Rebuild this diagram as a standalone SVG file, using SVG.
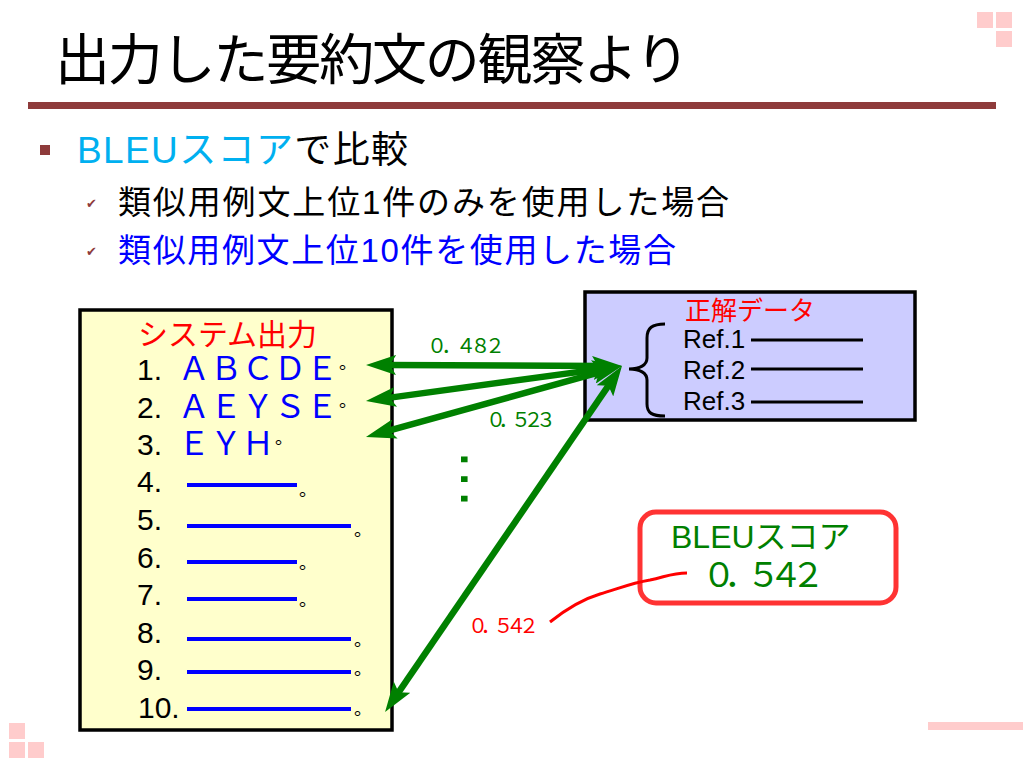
<svg xmlns="http://www.w3.org/2000/svg" width="1024" height="767" viewBox="0 0 1024 767">
<style>
text{font-family:"Liberation Sans","Noto Sans CJK JP",sans-serif;}
.num{font-size:30px;fill:#000;}
.fw{font-size:32px;fill:#0000ff;}
.dot{font-size:18px;fill:#000;}
.chk{font-family:"DejaVu Sans",sans-serif;font-size:13px;fill:#8e3b3b;}
.bl{stroke:#0000ff;stroke-width:4;}
.rl{stroke:#000;stroke-width:3;}
.deco{fill:#ffcccc;}
.arr{stroke:#008000;stroke-width:6.5;fill:none;marker-start:url(#ah);marker-end:url(#ah);}
.g{fill:#008000;}
</style>
<defs>
<marker id="ah" markerUnits="userSpaceOnUse" viewBox="0 0 30 20" markerWidth="30" markerHeight="20" refX="11" refY="10" orient="auto-start-reverse">
<path d="M0,0 L30,10 L0,20 L6,10 Z" fill="#008000"/>
</marker>
</defs>
<rect width="1024" height="767" fill="#fff"/>
<g id="decor">
<rect class="deco" x="977" y="12" width="16" height="16"/>
<rect class="deco" x="996" y="12" width="16" height="16"/>
<rect class="deco" x="996" y="31" width="16" height="16"/>
<rect class="deco" x="9" y="723" width="16" height="16"/>
<rect class="deco" x="9" y="742" width="16" height="16"/>
<rect class="deco" x="28" y="742" width="16" height="16"/>
<rect class="deco" x="928" y="722" width="95" height="8"/>
<rect x="28" y="102" width="968" height="7" fill="#8e3b3b"/>
</g>
<g id="title">
<text x="55" y="79" font-size="55" textLength="635" fill="#000">出力した要約文の観察より</text>
</g>
<g id="bullets">
<rect x="40" y="145" width="10" height="10" fill="#8e3b3b"/>
<text x="77" y="163" font-size="37" textLength="331"><tspan fill="#00b0f0">BLEUスコア</tspan><tspan fill="#000">で比較</tspan></text>
<text class="chk" x="86" y="208">✔</text>
<text x="118" y="214" font-size="33" textLength="611" fill="#000">類似用例文上位1件のみを使用した場合</text>
<text class="chk" x="86" y="256">✔</text>
<text x="118" y="262" font-size="33" textLength="558" fill="#0000ff">類似用例文上位10件を使用した場合</text>
</g>
<g id="system-output">
<rect x="80" y="310" width="312" height="420" fill="#ffffcc" stroke="#000" stroke-width="3.5"/>
<text x="138" y="345" font-size="30" fill="#ff0000">システム出力</text>
<text class="num" x="137" y="380">1.</text><text class="fw" x="178" y="380">ＡＢＣＤＥ</text><text class="dot" x="339" y="369">。</text>
<text class="num" x="137" y="418">2.</text><text class="fw" x="178" y="418">ＡＥＹＳＥ</text><text class="dot" x="339" y="407">。</text>
<text class="num" x="137" y="455">3.</text><text class="fw" x="178" y="455">ＥＹＨ</text><text class="dot" x="275" y="444">。</text>
<text class="num" x="137" y="492">4.</text><line class="bl" x1="187" y1="485" x2="297" y2="485"/><text class="dot" x="299" y="496">。</text>
<text class="num" x="137" y="530">5.</text><line class="bl" x1="187" y1="526" x2="351" y2="526"/><text class="dot" x="354" y="536">。</text>
<text class="num" x="137" y="568">6.</text><line class="bl" x1="187" y1="562" x2="297" y2="562"/><text class="dot" x="299" y="569">。</text>
<text class="num" x="137" y="605">7.</text><line class="bl" x1="187" y1="599" x2="297" y2="599"/><text class="dot" x="299" y="606">。</text>
<text class="num" x="137" y="643">8.</text><line class="bl" x1="187" y1="639" x2="351" y2="639"/><text class="dot" x="354" y="646">。</text>
<text class="num" x="137" y="680">9.</text><line class="bl" x1="187" y1="672" x2="351" y2="672"/><text class="dot" x="354" y="675">。</text>
<text class="num" x="138" y="718">10.</text><line class="bl" x1="187" y1="709" x2="351" y2="709"/><text class="dot" x="354" y="715">。</text>
</g>
<g id="reference-data">
<rect x="585" y="292" width="330" height="128" fill="#ccccff" stroke="#000" stroke-width="3.5"/>
<text x="685" y="320" font-size="26" fill="#ff0000">正解データ</text>
<path d="M665,324 C652,324 647,328 647,338 L647,358 C647,365 640,369 629,369 C640,369 647,373 647,380 L647,404 C647,413 652,416 665,416" fill="none" stroke="#000" stroke-width="3"/>
<text x="683" y="348" font-size="26" fill="#000">Ref.1</text><line class="rl" x1="751" y1="340" x2="863" y2="340"/>
<text x="683" y="379" font-size="26" fill="#000">Ref.2</text><line class="rl" x1="751" y1="369" x2="863" y2="369"/>
<text x="683" y="410" font-size="26" fill="#000">Ref.3</text><line class="rl" x1="751" y1="402" x2="863" y2="402"/>
</g>
<g id="bleu-score">
<rect x="640" y="512" width="256" height="91" rx="16" ry="16" fill="#fff" stroke="#ff3333" stroke-width="5"/>
<text x="671" y="548" font-size="32" class="g">BLEUスコア</text>
<text x="702" y="587" font-size="34" textLength="123" class="g">０．５４２</text>
</g>
<g id="connectors">
<line class="arr" x1="385" y1="365" x2="603" y2="366"/>
<line class="arr" x1="384.8" y1="398.4" x2="603.2" y2="368.6"/>
<line class="arr" x1="384.3" y1="431.9" x2="603.7" y2="371.1"/>
<line class="arr" x1="395.8" y1="696.3" x2="611.2" y2="381.7"/>
<path d="M550,622 C565,610 580,600 600,594 C620,588 632,583 650,580 C665,577 672,573 687,573" fill="none" stroke="#ff0000" stroke-width="3"/>
</g>
<g id="labels">
<text x="427" y="353" font-size="20" textLength="78" class="g">０．４８２</text>
<text x="486" y="427" font-size="20" textLength="70" class="g">０．５２３</text>
<text x="468" y="633" font-size="20" textLength="71" fill="#ff0000">０．５４２</text>
<text x="0" y="0" font-size="62" class="g" transform="translate(461,448) rotate(90)">…</text>
</g>
</svg>
